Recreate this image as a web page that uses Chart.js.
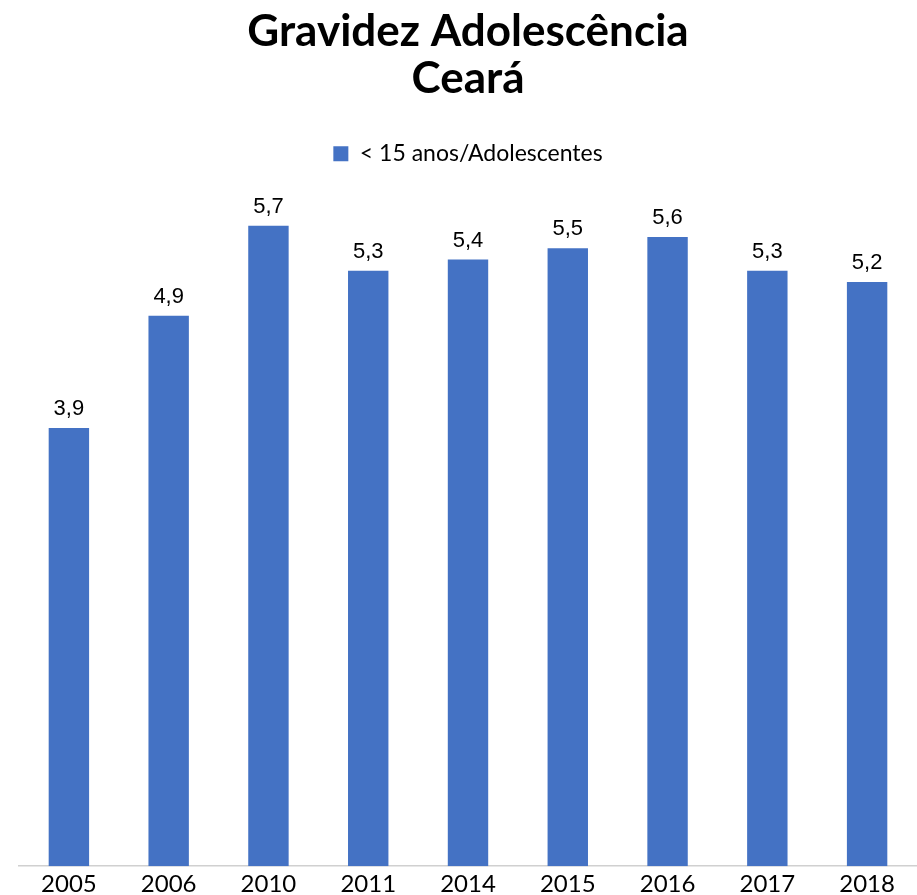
<!DOCTYPE html>
<html><head><meta charset="utf-8">
<script src="https://cdn.jsdelivr.net/npm/chart.js@4.4.1/dist/chart.umd.min.js"></script>
<style>html,body{margin:0;padding:0;overflow:hidden;background:#fff}#wrap{width:917px;height:903px;position:relative}</style>
</head><body><div id="wrap"><canvas id="c"></canvas></div>
<script>
const categories = ['2005','2006','2010','2011','2014','2015','2016','2017','2018'];
const values = [3.9, 4.9, 5.7, 5.3, 5.4, 5.5, 5.6, 5.3, 5.2];
const seriesName = '< 15 anos/Adolescentes';
const titleLines = ['Gravidez Adolescência', 'Ceará'];

const labelPlugin = {
  id: 'valLabels',
  afterDatasetsDraw(chart) {
    const ctx = chart.ctx;
    const meta = chart.getDatasetMeta(0);
    ctx.save();
    ctx.font = '22px "Liberation Sans", Arial, sans-serif';
    ctx.fillStyle = '#000';
    ctx.textAlign = 'center';
    ctx.textBaseline = 'alphabetic';
    meta.data.forEach((bar, i) => {
      ctx.fillText(values[i].toFixed(1).replace('.', ','), bar.x, bar.y - 13);
    });
    ctx.restore();
  }
};

new Chart(document.getElementById('c'), {
  type: 'bar',
  data: { labels: categories, datasets: [{ label: seriesName, data: values, backgroundColor: '#4472C4', borderWidth: 0, barPercentage: 0.405, categoryPercentage: 1 }] },
  options: {
    responsive: true, maintainAspectRatio: false, animation: false,
    layout: { padding: { left: 19, right: 0, top: 8, bottom: 0 } },
    plugins: {
      title: { display: true, text: titleLines, color: '#000', font: { family: 'Lato, "Open Sans", sans-serif', size: 44, weight: 'bold', lineHeight: 1.07 }, padding: { top: 0, bottom: 26 } },
      subtitle: { display: true, text: ' ', color: 'rgba(0,0,0,0)', weight: 500, font: { size: 17, lineHeight: 1 }, padding: 0 },
      legend: { display: true, weight: 1000, labels: { color: '#000', boxWidth: 15, boxHeight: 15, font: { family: 'Lato, "Open Sans", sans-serif', size: 23 }, padding: 14 } },
      tooltip: { enabled: false }
    },
    scales: {
      x: { grid: { display: false, drawTicks: false }, border: { display: true, color: '#d0d0d0', width: 1.5 },
           ticks: { color: '#000', font: { family: 'Lato, "Open Sans", sans-serif', size: 24 }, padding: 4, maxRotation: 0 } },
      y: { display: false, min: 0, max: 6 }
    }
  },
  plugins: [labelPlugin]
});
</script></body></html>
